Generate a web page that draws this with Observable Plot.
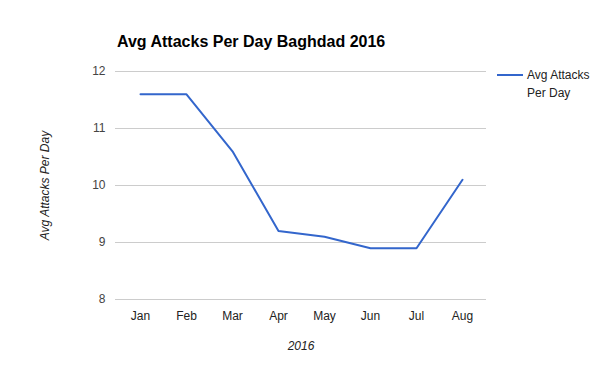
<!DOCTYPE html>
<html>
<head>
<meta charset="utf-8">
<script src="https://cdn.jsdelivr.net/npm/d3@7"></script>
<script src="https://cdn.jsdelivr.net/npm/@observablehq/plot@0.6"></script>
<style>
  html, body { margin: 0; padding: 0; background: #fff; }
  #wrap { position: relative; width: 600px; height: 371px; font-family: "Liberation Sans", Arial, sans-serif; }
  #title { position: absolute; left: 117px; top: 33px; font-size: 16px; font-weight: bold; color: #000; white-space: nowrap; }
  #legend { position: absolute; left: 497px; top: 66px; font-size: 12px; color: #222; line-height: 18px; }
  #legend .sw { position: absolute; left: 0; top: 8px; width: 26px; height: 2px; background: #3366cc; }
  #legend .lbl { position: absolute; left: 30px; top: 0; white-space: nowrap; }
</style>
</head>
<body>
<div id="wrap">
  <div id="chart"></div>
  <div id="title">Avg Attacks Per Day Baghdad 2016</div>
  <div id="legend"><div class="sw"></div><div class="lbl">Avg Attacks<br>Per Day</div></div>
</div>
<script>
const months = ["Jan", "Feb", "Mar", "Apr", "May", "Jun", "Jul", "Aug"];
const avgAttacks = [11.6, 11.6, 10.6, 9.2, 9.1, 8.9, 8.9, 10.1];
const yTicks = [8, 9, 10, 11, 12];
const seriesName = "Avg Attacks Per Day";
const xTitle = "2016";

const data = months.map((m, i) => ({month: m, value: avgAttacks[i]}));

const chart = Plot.plot({
  width: 600,
  height: 371,
  marginLeft: 115,
  marginRight: 114,
  marginTop: 71,
  marginBottom: 72,
  style: {fontFamily: "'Liberation Sans', Arial, sans-serif", fontSize: "12px", background: "#fff"},
  x: {type: "point", domain: months, padding: 0.5},
  y: {domain: [8, 12]},
  marks: [
    Plot.gridY(yTicks, {stroke: "#cccccc", strokeOpacity: 1, strokeWidth: 1}),
    Plot.axisY(yTicks, {tickSize: 0, tickPadding: 10, fill: "#444", fontSize: 12, label: null, tickFormat: d => String(d)}),
    Plot.axisX(months, {tickSize: 0, tickPadding: 12, fill: "#222", fontSize: 12, label: null}),
    Plot.text([seriesName], {frameAnchor: "left", textAnchor: "middle", dx: -70, rotate: -90, fontStyle: "italic", fill: "#222", fontSize: 12}),
    Plot.text([xTitle], {frameAnchor: "bottom", dy: 50, fontStyle: "italic", fill: "#222", fontSize: 12}),
    Plot.line(data, {x: "month", y: "value", stroke: "#3366cc", strokeWidth: 2})
  ]
});
document.getElementById("chart").appendChild(chart);
</script>
</body>
</html>
